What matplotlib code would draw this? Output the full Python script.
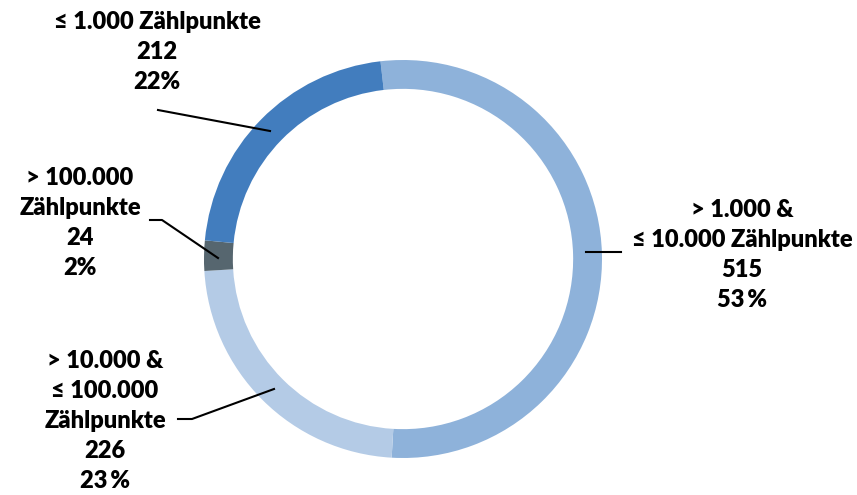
import matplotlib.pyplot as plt

plt.rcParams['font.family'] = ['Lato', 'DejaVu Sans']

# segments in clockwise order starting just left of the top
labels = ['> 1.000 &\n≤ 10.000 Zählpunkte', '> 10.000 &\n≤ 100.000\nZählpunkte',
          '> 100.000\nZählpunkte', '≤ 1.000 Zählpunkte']
values = [515, 226, 24, 212]
pct_text = ['53\u2009%', '23\u2009%', '2%', '22%']
colors = ['#8EB2DA', '#B4CBE6', '#56666F', '#427DBE']

W, H = 857, 495
cx, cy, r = 403, 259, 199

fig = plt.figure(figsize=(W / 100, H / 100), dpi=100)
ax = fig.add_axes([(cx - r) / W, (H - cy - r) / H, 2 * r / W, 2 * r / H])
ax.pie(values, colors=colors, startangle=96.5, counterclock=False, radius=1,
       wedgeprops=dict(width=0.145, linewidth=0))
ax.set_xlim(-1, 1)
ax.set_ylim(-1, 1)
ax.set_aspect('equal')
ax.axis('off')


def d(px, py):
    return ((px - cx) / r, (cy - py) / r)


# label centre, leader line points (pixels)
text_pos = [(742, 255), (105, 421), (80, 223), (157, 52)]
leaders = [
    [(621, 252), (586, 252)],
    [(178, 419), (192, 419), (274, 389)],
    [(150, 220), (162, 220), (218, 258)],
    [(158, 110), (270, 131)],
]

for lab, v, p, (tx, ty), pts in zip(labels, values, pct_text, text_pos, leaders):
    x, y = d(tx, ty)
    ax.text(x, y, f'{lab}\n{v}\n{p}', ha='center', va='center', fontsize=17,
            fontweight='heavy', linespacing=1.44, color='black', clip_on=False)
    xs, ys = zip(*[d(a, b) for a, b in pts])
    ax.plot(xs, ys, color='black', lw=1.5, clip_on=False)

fig.savefig('out.png', dpi=100)
